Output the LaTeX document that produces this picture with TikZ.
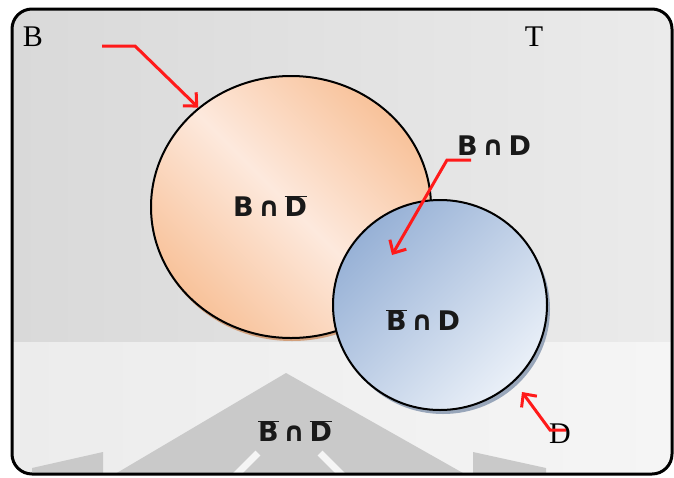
\documentclass[tikz,border=0pt]{standalone}
\usepackage{fontspec}
\setmainfont{Liberation Serif}
\newfontfamily\setfont{DejaVu Sans}
\usetikzlibrary{arrows.meta,shapes.geometric,shadings}
\definecolor{bgA}{HTML}{D9D9D9}
\definecolor{bgB}{HTML}{EBEBEB}
\definecolor{bgC}{HTML}{ECECEC}
\definecolor{bgD}{HTML}{F5F5F5}
\definecolor{wm}{HTML}{C9C9C9}
\definecolor{orA}{HTML}{F8C29A}
\definecolor{orB}{HTML}{FDE9DD}
\definecolor{orS}{HTML}{D2A07C}
\definecolor{blA}{HTML}{97B1D6}
\definecolor{blB}{HTML}{EAF0F8}
\definecolor{blS}{HTML}{98A6BA}
\definecolor{arr}{HTML}{FF1A1A}
\newcommand{\ob}[1]{$\overline{\mbox{#1}}$}
\tikzset{
  setlabel/.style={font=\setfont\bfseries\fontsize{27}{27}\selectfont, text=black!90, inner sep=0pt},
  bigletter/.style={font=\fontsize{30}{30}\selectfont, inner sep=0pt},
  redarrow/.style={draw=arr, line width=3pt, -{Straight Barb[length=10pt,width=19pt,line width=3pt]}},
  setshape/.style={ellipse, draw=black, line width=2pt},
}
\begin{document}
\begin{tikzpicture}[x=1pt,y=-1pt]
\useasboundingbox (0,0) rectangle (674,477);
\fill[white] (0,0) rectangle (674,477);
% background inside frame
\begin{scope}
  \clip[rounded corners=20pt] (12,9) rectangle (672,474);
  \shade[left color=bgA, right color=bgB] (12,9) rectangle (672,342);
  \shade[left color=bgC, right color=bgD] (12,342) rectangle (672,474);
  % watermark
  \fill[wm] (110,477) -- (286,373) -- (470,477) -- cycle;
  \fill[wm] (32,468) -- (103,452) -- (103,477) -- (32,477) -- cycle;
  \fill[wm] (473,452) -- (546,468) -- (546,477) -- (473,477) -- cycle;
  \draw[bgD, line width=7pt] (258,453) -- (234,477);
  \draw[bgD, line width=7pt] (320,453) -- (344,477);
\end{scope}
% shadows
\fill[orS] (292,210) ellipse [x radius=140, y radius=131];
\fill[blS] (443,309) ellipse [x radius=107, y radius=105];
% sets
\node[setshape, minimum width=280pt, minimum height=262pt,
      left color=orA, right color=orA, middle color=orB, shading angle=-45] (Bset) at (291,207) {};
\node[setshape, minimum width=214pt, minimum height=210pt,
      top color=blA, bottom color=blB, shading angle=45] (Dset) at (440,305) {};
% labels
\node[bigletter] (lB) at (33,37) {B};
\node[bigletter] (lT) at (534,37) {T};
\node[bigletter] (lD) at (560,434) {D};
\node[setlabel] (BnDc) at (270,206) {B\,∩\,\ob{D}};
\node[setlabel] (BnD) at (494,146) {B\,∩\,D};
\node[setlabel] (BcnD) at (423,320) {\ob{B}\,∩\,D};
\node[setlabel] (BcnDc) at (295,431) {\ob{B}\,∩\,\ob{D}};
% arrows
\coordinate (a1s) at (102,46);
\coordinate (a1k) at (135,46);
\coordinate (a2s) at (471,160);
\coordinate (a2k) at (447,160);
\coordinate (a2e) at (392,255);
\coordinate (a3s) at (566,430);
\coordinate (a3k) at (550,430);
\coordinate (a3e) at (522,392);
\draw[redarrow] (a1s) -- (a1k) -- (Bset.133);
\draw[redarrow] (a2s) -- (a2k) -- (a2e);
\draw[redarrow] (a3s) -- (a3k) -- (a3e);
% frame
\draw[black, line width=3pt, rounded corners=20pt] (12,9) rectangle (672,474);
\end{tikzpicture}
\end{document}
